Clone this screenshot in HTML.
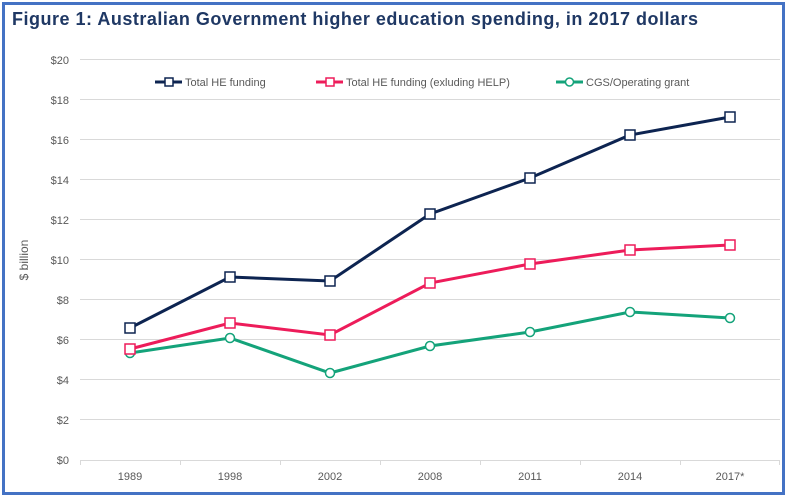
<!DOCTYPE html>
<html><head><style>
body{margin:0;background:#fff;}
svg{display:block;font-family:"Liberation Sans",sans-serif;}
</style></head><body>
<svg width="788" height="499" viewBox="0 0 788 499">
<rect x="0" y="0" width="788" height="499" fill="#fff"/>
<rect x="3.5" y="3.5" width="780" height="490" fill="none" stroke="#4472c4" stroke-width="3"/>
<text x="12" y="25" font-size="18" font-weight="bold" fill="#1f3864" textLength="686" lengthAdjust="spacing">Figure 1: Australian Government higher education spending, in 2017 dollars</text>
<g stroke="#d9d9d9" stroke-width="1">
<line x1="80" x2="780" y1="59.5" y2="59.5"/><line x1="80" x2="780" y1="99.5" y2="99.5"/>
<line x1="80" x2="780" y1="139.5" y2="139.5"/><line x1="80" x2="780" y1="179.5" y2="179.5"/>
<line x1="80" x2="780" y1="219.5" y2="219.5"/><line x1="80" x2="780" y1="259.5" y2="259.5"/>
<line x1="80" x2="780" y1="299.5" y2="299.5"/><line x1="80" x2="780" y1="339.5" y2="339.5"/>
<line x1="80" x2="780" y1="379.5" y2="379.5"/><line x1="80" x2="780" y1="419.5" y2="419.5"/>
<line x1="80" x2="780" y1="460.5" y2="460.5"/>
<line x1="80.5" x2="80.5" y1="460" y2="465"/><line x1="180.5" x2="180.5" y1="460" y2="465"/>
<line x1="280.5" x2="280.5" y1="460" y2="465"/><line x1="380.5" x2="380.5" y1="460" y2="465"/>
<line x1="480.5" x2="480.5" y1="460" y2="465"/><line x1="580.5" x2="580.5" y1="460" y2="465"/>
<line x1="680.5" x2="680.5" y1="460" y2="465"/><line x1="779.5" x2="779.5" y1="460" y2="465"/>
</g>
<g font-size="11" fill="#595959" text-anchor="end">
<text x="69" y="64">$20</text><text x="69" y="104">$18</text><text x="69" y="144">$16</text>
<text x="69" y="184">$14</text><text x="69" y="224">$12</text><text x="69" y="264">$10</text>
<text x="69" y="304">$8</text><text x="69" y="344">$6</text><text x="69" y="384">$4</text>
<text x="69" y="424">$2</text><text x="69" y="464">$0</text>
</g>
<g font-size="11" fill="#595959" text-anchor="middle">
<text x="130" y="480">1989</text><text x="230" y="480">1998</text><text x="330" y="480">2002</text>
<text x="430" y="480">2008</text><text x="530" y="480">2011</text><text x="630" y="480">2014</text>
<text x="730" y="480">2017*</text>
</g>
<text transform="translate(28,260) rotate(-90)" font-size="12" fill="#595959" text-anchor="middle">$ billion</text>
<g font-size="11" fill="#595959">
<line x1="155" x2="182" y1="82" y2="82" stroke="#0d2451" stroke-width="3"/>
<rect x="165" y="78" width="8" height="8" fill="#fff" stroke="#0d2451" stroke-width="1.5"/>
<text x="185" y="86">Total HE funding</text>
<line x1="316" x2="343" y1="82" y2="82" stroke="#ed1c5a" stroke-width="3"/>
<rect x="326" y="78" width="8" height="8" fill="#fff" stroke="#ed1c5a" stroke-width="1.5"/>
<text x="346" y="86">Total HE funding (exluding HELP)</text>
<line x1="556" x2="583" y1="82" y2="82" stroke="#14a37a" stroke-width="3"/>
<circle cx="569.5" cy="82" r="4" fill="#fff" stroke="#14a37a" stroke-width="1.5"/>
<text x="586" y="86">CGS/Operating grant</text>
</g>
<polyline fill="none" stroke="#14a37a" stroke-width="3" points="130,353 230,338 330,373 430,346 530,332 630,312 730,318"/>
<polyline fill="none" stroke="#ed1c5a" stroke-width="3" points="130,349 230,323 330,335 430,283 530,264 630,250 730,245"/>
<polyline fill="none" stroke="#0d2451" stroke-width="3" points="130,328 230,277 330,281 430,214 530,178 630,135 730,117"/>
<g fill="#fff" stroke="#14a37a" stroke-width="1.5">
<circle cx="130" cy="353" r="4.5"/><circle cx="230" cy="338" r="4.5"/><circle cx="330" cy="373" r="4.5"/>
<circle cx="430" cy="346" r="4.5"/><circle cx="530" cy="332" r="4.5"/><circle cx="630" cy="312" r="4.5"/><circle cx="730" cy="318" r="4.5"/>
</g>
<g fill="#fff" stroke="#ed1c5a" stroke-width="1.5">
<rect x="125" y="344" width="10" height="10"/><rect x="225" y="318" width="10" height="10"/><rect x="325" y="330" width="10" height="10"/>
<rect x="425" y="278" width="10" height="10"/><rect x="525" y="259" width="10" height="10"/><rect x="625" y="245" width="10" height="10"/><rect x="725" y="240" width="10" height="10"/>
</g>
<g fill="#fff" stroke="#0d2451" stroke-width="1.5">
<rect x="125" y="323" width="10" height="10"/><rect x="225" y="272" width="10" height="10"/><rect x="325" y="276" width="10" height="10"/>
<rect x="425" y="209" width="10" height="10"/><rect x="525" y="173" width="10" height="10"/><rect x="625" y="130" width="10" height="10"/><rect x="725" y="112" width="10" height="10"/>
</g>
</svg>
</body></html>
